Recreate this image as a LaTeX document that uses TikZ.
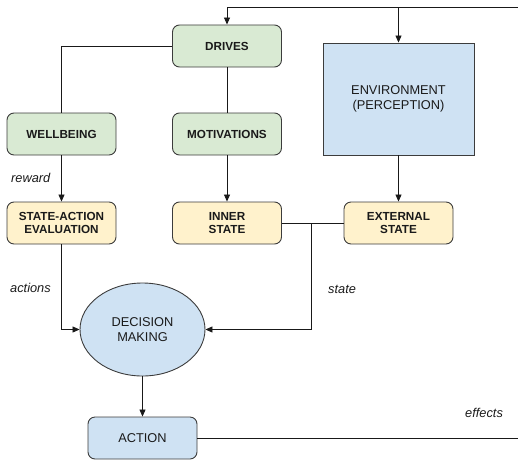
\documentclass[tikz,border=0pt]{standalone}
\usepackage{fontspec}
\setmainfont{Liberation Sans}
\usetikzlibrary{arrows.meta,shapes.geometric}
\definecolor{gfill}{HTML}{D9EAD3}
\definecolor{yfill}{HTML}{FFF2CC}
\definecolor{bfill}{HTML}{CFE2F3}
\definecolor{edge}{HTML}{3C3C3C}
\definecolor{txt}{HTML}{1A1A1A}
\tikzset{
  base/.style={draw=edge, line width=0.9pt, text=txt, align=center, inner sep=0pt},
  boldbox/.style={base, rounded corners=7pt, minimum width=109pt, minimum height=42pt,
    font=\bfseries\fontsize{11.7}{13.3}\selectfont},
  gbox/.style={boldbox, fill=gfill},
  ybox/.style={boldbox, fill=yfill},
  bbox/.style={base, fill=bfill, font=\fontsize{12.8}{15}\selectfont},
  conn/.style={draw=black!90, line width=0.85pt},
  arr/.style={conn, -{Triangle[length=7pt,width=6pt]}},
  lbl/.style={font=\itshape\fontsize{12.8}{15}\selectfont, text=txt, inner sep=0pt, anchor=west}
}
\begin{document}
\begin{tikzpicture}[x=1pt,y=-1pt]
\useasboundingbox (0,0) rectangle (518,460);
\node[gbox] (drives) at (227,46) {DRIVES};
\node[gbox] (well) at (61.5,134) {WELLBEING};
\node[gbox] (motiv) at (227,134) {MOTIVATIONS};
\node[bbox, minimum width=151pt, minimum height=112pt] (env) at (398.5,99) {ENVIRONMENT\\(PERCEPTION)};
\node[ybox] (sae) at (61.5,223) {STATE-ACTION\\EVALUATION};
\node[ybox] (inner) at (227,223) {INNER\\STATE};
\node[ybox] (ext) at (398.5,223) {EXTERNAL\\STATE};
\node[bbox, ellipse, minimum width=125pt, minimum height=93pt] (dm) at (142.5,329.5) {DECISION\\MAKING};
\node[bbox, rounded corners=7pt, minimum width=109pt, minimum height=42pt] (act) at (142.5,438) {ACTION};

\coordinate (topR) at (518,7.5);
\coordinate (botR) at (518,438);
\coordinate (envtop) at (env.north |- topR);
\coordinate (j) at (311,223);

\draw[arr] (topR) -| (drives.north);
\draw[arr] (envtop) -- (env.north);
\draw[conn] (drives.west) -| (well.north);
\draw[conn] (drives.south) -- (motiv.north);
\draw[arr] (well.south) -- (sae.north);
\draw[arr] (motiv.south) -- (inner.north);
\draw[arr] (env.south) -- (ext.north);
\draw[conn] (inner.east) -- (ext.west);
\draw[arr] (j) |- (dm.east);
\draw[arr] (sae.south) |- (dm.west);
\draw[arr] (dm.south) -- (act.north);
\draw[conn] (act.east) -- (botR);

\node[lbl] (lrew) at (11,178) {reward};
\node[lbl] (lact) at (10,288) {actions};
\node[lbl] (lst) at (328,289) {state};
\node[lbl] (leff) at (465,413) {effects};
\end{tikzpicture}
\end{document}
